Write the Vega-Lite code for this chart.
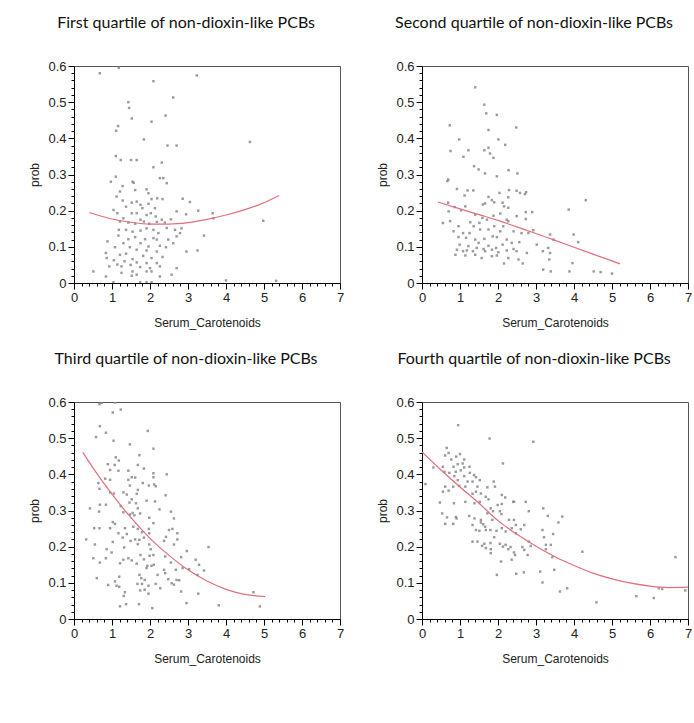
{
  "$schema": "https://vega.github.io/schema/vega-lite/v6.json",
  "padding": {"left": 28, "top": 14, "right": 5, "bottom": 5},
  "background": "white",
  "columns": 2,
  "bounds": "flush",
  "spacing": {"row": 119, "column": 82},
  "datasets": {
    "p1": [
      {"x":0.68,"y":0.58},{"x":1.18,"y":0.595},{"x":2.09,"y":0.558},{"x":3.23,"y":0.574},{"x":1.43,"y":0.5},{"x":1.45,"y":0.484},{"x":1.52,"y":0.455},{"x":2.61,"y":0.513},{"x":2.41,"y":0.463},{"x":2.04,"y":0.446},{"x":1.16,"y":0.434},{"x":1.11,"y":0.421},{"x":1.84,"y":0.397},{"x":2.46,"y":0.38},{"x":2.7,"y":0.38},{"x":4.63,"y":0.39},{"x":1.1,"y":0.351},{"x":1.23,"y":0.34},{"x":1.5,"y":0.34},{"x":1.65,"y":0.34},{"x":2.31,"y":0.333},{"x":2.09,"y":0.32},{"x":1.1,"y":0.294},{"x":0.97,"y":0.28},{"x":1.54,"y":0.28},{"x":1.57,"y":0.277},{"x":2.26,"y":0.29},{"x":2.35,"y":0.29},{"x":2.44,"y":0.276},{"x":1.28,"y":0.268},{"x":1.61,"y":0.257},{"x":1.21,"y":0.253},{"x":1.91,"y":0.259},{"x":1.96,"y":0.248},{"x":1.12,"y":0.239},{"x":2.19,"y":0.234},{"x":2.33,"y":0.232},{"x":2.86,"y":0.233},{"x":3.05,"y":0.224},{"x":2.04,"y":0.232},{"x":1.28,"y":0.228},{"x":1.52,"y":0.222},{"x":1.75,"y":0.216},{"x":1.96,"y":0.219},{"x":1.65,"y":0.225},{"x":1.37,"y":0.211},{"x":2.13,"y":0.207},{"x":1.8,"y":0.207},{"x":3.27,"y":0.2},{"x":3.65,"y":0.193},{"x":1.04,"y":0.202},{"x":1.14,"y":0.193},{"x":1.52,"y":0.193},{"x":1.65,"y":0.193},{"x":1.91,"y":0.188},{"x":2.02,"y":0.193},{"x":2.15,"y":0.184},{"x":2.7,"y":0.198},{"x":2.95,"y":0.19},{"x":1.3,"y":0.179},{"x":1.75,"y":0.175},{"x":2.31,"y":0.175},{"x":3.67,"y":0.179},{"x":2.55,"y":0.176},{"x":4.98,"y":0.172},{"x":1.21,"y":0.17},{"x":1.43,"y":0.167},{"x":1.61,"y":0.164},{"x":1.84,"y":0.17},{"x":1.98,"y":0.164},{"x":2.18,"y":0.169},{"x":2.39,"y":0.167},{"x":1.37,"y":0.147},{"x":1.18,"y":0.147},{"x":1.54,"y":0.142},{"x":1.75,"y":0.145},{"x":1.91,"y":0.151},{"x":2.09,"y":0.147},{"x":2.22,"y":0.138},{"x":2.44,"y":0.152},{"x":2.66,"y":0.147},{"x":2.83,"y":0.151},{"x":2.7,"y":0.129},{"x":2.79,"y":0.138},{"x":3.42,"y":0.131},{"x":1.61,"y":0.127},{"x":1.43,"y":0.121},{"x":1.87,"y":0.121},{"x":2.09,"y":0.124},{"x":2.18,"y":0.12},{"x":2.48,"y":0.12},{"x":1.17,"y":0.131},{"x":0.88,"y":0.115},{"x":1.3,"y":0.11},{"x":1.75,"y":0.11},{"x":1.96,"y":0.101},{"x":2.26,"y":0.103},{"x":1.47,"y":0.099},{"x":1.08,"y":0.099},{"x":2.42,"y":0.099},{"x":2.61,"y":0.11},{"x":1.65,"y":0.092},{"x":1.91,"y":0.09},{"x":2.18,"y":0.087},{"x":2.96,"y":0.087},{"x":3.25,"y":0.09},{"x":0.84,"y":0.083},{"x":1.37,"y":0.081},{"x":1.21,"y":0.078},{"x":1.82,"y":0.075},{"x":1.54,"y":0.066},{"x":2.04,"y":0.069},{"x":2.33,"y":0.072},{"x":0.86,"y":0.069},{"x":1.05,"y":0.063},{"x":1.33,"y":0.06},{"x":1.65,"y":0.057},{"x":1.91,"y":0.055},{"x":2.18,"y":0.055},{"x":1.14,"y":0.051},{"x":1.49,"y":0.05},{"x":0.93,"y":0.046},{"x":1.25,"y":0.046},{"x":1.74,"y":0.044},{"x":2.0,"y":0.041},{"x":2.26,"y":0.046},{"x":2.7,"y":0.041},{"x":2.04,"y":0.032},{"x":1.91,"y":0.032},{"x":1.54,"y":0.032},{"x":0.51,"y":0.032},{"x":1.25,"y":0.028},{"x":1.65,"y":0.023},{"x":1.52,"y":0.02},{"x":2.26,"y":0.018},{"x":2.57,"y":0.023},{"x":0.84,"y":0.018},{"x":1.04,"y":0.002},{"x":1.74,"y":0.002},{"x":1.91,"y":0.002},{"x":4.0,"y":0.007},{"x":5.32,"y":0.006},{"x":2.04,"y":0.002}
    ],
    "f1": [
      {"x":0.4,"y":0.195},{"x":1.0,"y":0.177},{"x":1.5,"y":0.168},{"x":2.0,"y":0.163},{"x":2.5,"y":0.163},{"x":3.0,"y":0.167},{"x":3.5,"y":0.176},{"x":4.0,"y":0.188},{"x":4.5,"y":0.203},{"x":5.0,"y":0.222},{"x":5.4,"y":0.242}
    ],
    "p2": [
      {"x":1.4,"y":0.541},{"x":1.64,"y":0.493},{"x":1.69,"y":0.469},{"x":1.97,"y":0.465},{"x":2.48,"y":0.43},{"x":1.75,"y":0.423},{"x":0.73,"y":0.436},{"x":0.98,"y":0.397},{"x":2.01,"y":0.397},{"x":1.75,"y":0.374},{"x":2.19,"y":0.382},{"x":0.75,"y":0.365},{"x":1.64,"y":0.367},{"x":1.79,"y":0.358},{"x":1.22,"y":0.367},{"x":1.09,"y":0.349},{"x":1.88,"y":0.346},{"x":1.37,"y":0.323},{"x":1.49,"y":0.314},{"x":1.66,"y":0.303},{"x":1.97,"y":0.295},{"x":2.51,"y":0.303},{"x":2.28,"y":0.312},{"x":0.67,"y":0.282},{"x":0.69,"y":0.286},{"x":0.92,"y":0.26},{"x":1.2,"y":0.256},{"x":1.35,"y":0.256},{"x":2.29,"y":0.257},{"x":2.49,"y":0.255},{"x":2.58,"y":0.249},{"x":2.74,"y":0.251},{"x":2.71,"y":0.246},{"x":2.04,"y":0.249},{"x":1.75,"y":0.238},{"x":2.27,"y":0.237},{"x":1.12,"y":0.242},{"x":1.84,"y":0.229},{"x":1.9,"y":0.223},{"x":1.66,"y":0.22},{"x":1.6,"y":0.217},{"x":2.12,"y":0.222},{"x":2.16,"y":0.212},{"x":1.14,"y":0.212},{"x":4.31,"y":0.229},{"x":3.86,"y":0.203},{"x":0.69,"y":0.222},{"x":0.86,"y":0.21},{"x":0.7,"y":0.198},{"x":1.03,"y":0.201},{"x":1.4,"y":0.189},{"x":1.88,"y":0.186},{"x":2.06,"y":0.192},{"x":2.73,"y":0.196},{"x":2.9,"y":0.196},{"x":2.27,"y":0.208},{"x":0.74,"y":0.171},{"x":0.55,"y":0.166},{"x":1.27,"y":0.168},{"x":1.71,"y":0.175},{"x":1.59,"y":0.18},{"x":2.23,"y":0.175},{"x":2.49,"y":0.185},{"x":2.73,"y":0.177},{"x":0.96,"y":0.157},{"x":1.36,"y":0.157},{"x":1.51,"y":0.166},{"x":1.9,"y":0.157},{"x":2.14,"y":0.157},{"x":2.27,"y":0.171},{"x":2.93,"y":0.146},{"x":1.53,"y":0.148},{"x":1.75,"y":0.148},{"x":2.06,"y":0.143},{"x":0.83,"y":0.143},{"x":1.08,"y":0.138},{"x":1.25,"y":0.138},{"x":2.41,"y":0.143},{"x":2.62,"y":0.138},{"x":2.8,"y":0.138},{"x":3.37,"y":0.134},{"x":3.99,"y":0.134},{"x":0.96,"y":0.127},{"x":1.16,"y":0.125},{"x":1.4,"y":0.12},{"x":1.64,"y":0.122},{"x":1.86,"y":0.129},{"x":1.97,"y":0.127},{"x":2.23,"y":0.12},{"x":3.46,"y":0.12},{"x":4.11,"y":0.113},{"x":0.99,"y":0.106},{"x":1.22,"y":0.102},{"x":1.49,"y":0.111},{"x":1.75,"y":0.103},{"x":2.12,"y":0.106},{"x":2.36,"y":0.111},{"x":2.56,"y":0.113},{"x":1.44,"y":0.097},{"x":1.62,"y":0.094},{"x":1.95,"y":0.097},{"x":2.41,"y":0.094},{"x":3.02,"y":0.106},{"x":3.32,"y":0.097},{"x":0.92,"y":0.092},{"x":1.08,"y":0.088},{"x":1.18,"y":0.09},{"x":1.34,"y":0.088},{"x":1.66,"y":0.088},{"x":1.84,"y":0.092},{"x":2.01,"y":0.085},{"x":2.23,"y":0.09},{"x":2.49,"y":0.088},{"x":2.76,"y":0.083},{"x":3.18,"y":0.088},{"x":3.37,"y":0.083},{"x":0.88,"y":0.078},{"x":1.14,"y":0.076},{"x":1.4,"y":0.078},{"x":1.57,"y":0.069},{"x":1.84,"y":0.074},{"x":1.97,"y":0.076},{"x":2.27,"y":0.069},{"x":2.54,"y":0.065},{"x":3.35,"y":0.065},{"x":2.65,"y":0.054},{"x":2.16,"y":0.054},{"x":3.96,"y":0.055},{"x":3.19,"y":0.037},{"x":3.39,"y":0.032},{"x":3.88,"y":0.032},{"x":4.52,"y":0.032},{"x":4.7,"y":0.03},{"x":5.0,"y":0.026}
    ],
    "f2": [
      {"x":0.42,"y":0.224},{"x":1.0,"y":0.205},{"x":1.5,"y":0.189},{"x":2.0,"y":0.173},{"x":2.5,"y":0.155},{"x":3.0,"y":0.137},{"x":3.5,"y":0.118},{"x":4.0,"y":0.099},{"x":4.5,"y":0.08},{"x":5.21,"y":0.053}
    ],
    "p3": [
      {"x":0.73,"y":0.598},{"x":0.67,"y":0.594},{"x":1.08,"y":0.599},{"x":1.23,"y":0.579},{"x":1.02,"y":0.571},{"x":0.68,"y":0.533},{"x":0.84,"y":0.515},{"x":0.58,"y":0.503},{"x":1.94,"y":0.52},{"x":1.04,"y":0.493},{"x":1.47,"y":0.483},{"x":2.09,"y":0.471},{"x":1.72,"y":0.453},{"x":1.1,"y":0.447},{"x":1.18,"y":0.438},{"x":1.07,"y":0.426},{"x":0.89,"y":0.428},{"x":0.95,"y":0.412},{"x":1.17,"y":0.41},{"x":1.43,"y":0.41},{"x":1.68,"y":0.426},{"x":1.84,"y":0.416},{"x":2.09,"y":0.403},{"x":2.44,"y":0.4},{"x":1.52,"y":0.392},{"x":1.61,"y":0.391},{"x":2.09,"y":0.392},{"x":0.82,"y":0.388},{"x":0.95,"y":0.385},{"x":0.64,"y":0.376},{"x":0.67,"y":0.36},{"x":1.43,"y":0.385},{"x":1.47,"y":0.369},{"x":1.81,"y":0.376},{"x":1.97,"y":0.369},{"x":2.11,"y":0.372},{"x":2.15,"y":0.367},{"x":1.68,"y":0.357},{"x":0.95,"y":0.35},{"x":1.05,"y":0.347},{"x":1.3,"y":0.35},{"x":1.39,"y":0.344},{"x":1.65,"y":0.346},{"x":2.41,"y":0.342},{"x":1.52,"y":0.331},{"x":1.63,"y":0.32},{"x":1.91,"y":0.327},{"x":2.13,"y":0.325},{"x":1.46,"y":0.322},{"x":0.68,"y":0.316},{"x":0.84,"y":0.316},{"x":0.42,"y":0.306},{"x":1.23,"y":0.312},{"x":1.68,"y":0.306},{"x":2.25,"y":0.303},{"x":2.55,"y":0.297},{"x":0.66,"y":0.297},{"x":1.3,"y":0.295},{"x":1.54,"y":0.293},{"x":1.74,"y":0.292},{"x":1.02,"y":0.268},{"x":1.47,"y":0.289},{"x":1.59,"y":0.287},{"x":1.98,"y":0.28},{"x":2.63,"y":0.278},{"x":1.08,"y":0.263},{"x":2.09,"y":0.265},{"x":0.53,"y":0.251},{"x":0.67,"y":0.251},{"x":0.95,"y":0.251},{"x":1.34,"y":0.251},{"x":1.56,"y":0.255},{"x":1.68,"y":0.249},{"x":1.97,"y":0.249},{"x":2.5,"y":0.246},{"x":2.59,"y":0.249},{"x":2.72,"y":0.237},{"x":1.17,"y":0.237},{"x":1.39,"y":0.235},{"x":1.79,"y":0.24},{"x":1.98,"y":0.237},{"x":0.32,"y":0.22},{"x":1.28,"y":0.225},{"x":1.61,"y":0.22},{"x":1.72,"y":0.219},{"x":1.84,"y":0.225},{"x":2.42,"y":0.227},{"x":2.72,"y":0.22},{"x":1.49,"y":0.216},{"x":2.37,"y":0.216},{"x":2.63,"y":0.206},{"x":3.54,"y":0.199},{"x":0.55,"y":0.206},{"x":1.02,"y":0.213},{"x":1.68,"y":0.207},{"x":1.98,"y":0.206},{"x":2.97,"y":0.188},{"x":1.32,"y":0.198},{"x":0.86,"y":0.193},{"x":2.02,"y":0.193},{"x":0.99,"y":0.184},{"x":1.75,"y":0.177},{"x":1.99,"y":0.175},{"x":2.09,"y":0.177},{"x":2.4,"y":0.173},{"x":2.82,"y":0.171},{"x":0.51,"y":0.168},{"x":0.84,"y":0.168},{"x":1.43,"y":0.168},{"x":1.3,"y":0.164},{"x":1.52,"y":0.162},{"x":1.84,"y":0.165},{"x":3.2,"y":0.164},{"x":3.29,"y":0.15},{"x":0.68,"y":0.156},{"x":1.21,"y":0.154},{"x":1.65,"y":0.153},{"x":1.93,"y":0.147},{"x":2.04,"y":0.147},{"x":2.1,"y":0.15},{"x":2.55,"y":0.156},{"x":1.91,"y":0.141},{"x":2.37,"y":0.136},{"x":2.68,"y":0.136},{"x":2.86,"y":0.141},{"x":3.03,"y":0.138},{"x":3.42,"y":0.134},{"x":2.4,"y":0.127},{"x":3.25,"y":0.122},{"x":1.19,"y":0.117},{"x":1.72,"y":0.122},{"x":2.2,"y":0.122},{"x":0.6,"y":0.113},{"x":1.77,"y":0.113},{"x":1.86,"y":0.108},{"x":2.48,"y":0.11},{"x":2.7,"y":0.108},{"x":2.77,"y":0.107},{"x":1.08,"y":0.104},{"x":1.67,"y":0.097},{"x":1.79,"y":0.097},{"x":2.15,"y":0.097},{"x":2.57,"y":0.099},{"x":2.63,"y":0.095},{"x":0.9,"y":0.094},{"x":1.12,"y":0.092},{"x":1.19,"y":0.089},{"x":1.96,"y":0.092},{"x":2.27,"y":0.085},{"x":2.82,"y":0.076},{"x":1.74,"y":0.079},{"x":1.86,"y":0.081},{"x":1.96,"y":0.07},{"x":1.34,"y":0.074},{"x":3.27,"y":0.07},{"x":4.72,"y":0.074},{"x":1.31,"y":0.064},{"x":2.96,"y":0.044},{"x":1.37,"y":0.041},{"x":1.71,"y":0.041},{"x":1.21,"y":0.035},{"x":2.06,"y":0.03},{"x":3.81,"y":0.038},{"x":4.89,"y":0.035}
    ],
    "f3": [
      {"x":0.23,"y":0.461},{"x":0.5,"y":0.418},{"x":1.0,"y":0.345},{"x":1.5,"y":0.28},{"x":2.0,"y":0.223},{"x":2.5,"y":0.176},{"x":3.0,"y":0.136},{"x":3.5,"y":0.105},{"x":4.0,"y":0.082},{"x":4.5,"y":0.068},{"x":5.03,"y":0.062}
    ],
    "p4": [
      {"x":0.95,"y":0.536},{"x":1.78,"y":0.499},{"x":2.93,"y":0.49},{"x":0.65,"y":0.473},{"x":0.7,"y":0.459},{"x":0.61,"y":0.452},{"x":0.9,"y":0.449},{"x":1.0,"y":0.456},{"x":1.11,"y":0.441},{"x":2.13,"y":0.43},{"x":0.3,"y":0.419},{"x":0.77,"y":0.441},{"x":0.55,"y":0.421},{"x":0.83,"y":0.421},{"x":0.94,"y":0.428},{"x":1.07,"y":0.43},{"x":1.11,"y":0.419},{"x":1.25,"y":0.421},{"x":0.59,"y":0.407},{"x":0.72,"y":0.404},{"x":0.89,"y":0.407},{"x":1.02,"y":0.411},{"x":1.26,"y":0.404},{"x":1.37,"y":0.398},{"x":0.85,"y":0.395},{"x":1.11,"y":0.395},{"x":1.42,"y":0.392},{"x":0.09,"y":0.373},{"x":0.94,"y":0.384},{"x":1.2,"y":0.38},{"x":1.33,"y":0.38},{"x":1.52,"y":0.384},{"x":1.89,"y":0.38},{"x":0.61,"y":0.366},{"x":0.82,"y":0.366},{"x":0.98,"y":0.368},{"x":1.14,"y":0.366},{"x":1.46,"y":0.366},{"x":1.72,"y":0.364},{"x":1.92,"y":0.366},{"x":0.55,"y":0.352},{"x":0.7,"y":0.355},{"x":1.42,"y":0.352},{"x":1.55,"y":0.347},{"x":1.33,"y":0.346},{"x":1.68,"y":0.338},{"x":2.1,"y":0.343},{"x":2.19,"y":0.336},{"x":1.75,"y":0.331},{"x":2.73,"y":0.324},{"x":2.42,"y":0.324},{"x":1.14,"y":0.324},{"x":0.47,"y":0.322},{"x":0.84,"y":0.32},{"x":1.38,"y":0.32},{"x":1.52,"y":0.324},{"x":2.1,"y":0.318},{"x":2.4,"y":0.324},{"x":3.19,"y":0.306},{"x":1.99,"y":0.315},{"x":1.81,"y":0.306},{"x":2.81,"y":0.298},{"x":1.87,"y":0.298},{"x":2.05,"y":0.298},{"x":2.09,"y":0.29},{"x":0.53,"y":0.292},{"x":1.72,"y":0.292},{"x":3.31,"y":0.285},{"x":1.24,"y":0.285},{"x":1.38,"y":0.278},{"x":0.66,"y":0.281},{"x":0.91,"y":0.278},{"x":3.69,"y":0.283},{"x":0.89,"y":0.282},{"x":1.85,"y":0.274},{"x":2.29,"y":0.274},{"x":2.42,"y":0.274},{"x":1.55,"y":0.274},{"x":3.59,"y":0.267},{"x":1.55,"y":0.267},{"x":1.61,"y":0.262},{"x":0.61,"y":0.263},{"x":1.33,"y":0.26},{"x":1.66,"y":0.255},{"x":2.47,"y":0.26},{"x":2.69,"y":0.26},{"x":0.82,"y":0.263},{"x":2.1,"y":0.251},{"x":2.36,"y":0.251},{"x":1.42,"y":0.246},{"x":1.51,"y":0.244},{"x":1.68,"y":0.246},{"x":1.8,"y":0.246},{"x":1.96,"y":0.244},{"x":2.6,"y":0.248},{"x":3.17,"y":0.246},{"x":2.2,"y":0.242},{"x":2.47,"y":0.237},{"x":3.45,"y":0.235},{"x":3.21,"y":0.226},{"x":1.9,"y":0.226},{"x":1.33,"y":0.214},{"x":1.46,"y":0.214},{"x":2.81,"y":0.214},{"x":1.64,"y":0.208},{"x":1.8,"y":0.21},{"x":1.58,"y":0.202},{"x":1.68,"y":0.196},{"x":1.81,"y":0.193},{"x":2.05,"y":0.208},{"x":2.2,"y":0.205},{"x":2.13,"y":0.2},{"x":2.33,"y":0.199},{"x":2.64,"y":0.199},{"x":2.86,"y":0.202},{"x":3.26,"y":0.205},{"x":3.39,"y":0.205},{"x":3.26,"y":0.193},{"x":2.69,"y":0.191},{"x":4.22,"y":0.186},{"x":2.42,"y":0.184},{"x":1.81,"y":0.182},{"x":2.27,"y":0.193},{"x":2.78,"y":0.177},{"x":2.45,"y":0.177},{"x":3.43,"y":0.171},{"x":6.67,"y":0.171},{"x":2.36,"y":0.164},{"x":2.08,"y":0.159},{"x":3.48,"y":0.136},{"x":3.11,"y":0.131},{"x":2.68,"y":0.129},{"x":2.48,"y":0.125},{"x":1.97,"y":0.122},{"x":3.17,"y":0.101},{"x":3.82,"y":0.085},{"x":3.63,"y":0.076},{"x":6.23,"y":0.085},{"x":6.32,"y":0.083},{"x":6.93,"y":0.079},{"x":5.64,"y":0.063},{"x":6.1,"y":0.058},{"x":4.59,"y":0.046}
    ],
    "f4": [
      {"x":0.0,"y":0.462},{"x":0.5,"y":0.412},{"x":1.0,"y":0.365},{"x":1.5,"y":0.32},{"x":2.0,"y":0.272},{"x":2.5,"y":0.234},{"x":3.0,"y":0.201},{"x":3.5,"y":0.172},{"x":4.0,"y":0.148},{"x":4.5,"y":0.127},{"x":5.0,"y":0.111},{"x":5.5,"y":0.099},{"x":6.0,"y":0.091},{"x":6.5,"y":0.087},{"x":7.0,"y":0.088}
    ]
  },
  "concat": [
    {
      "title": "First quartile of non-dioxin-like PCBs",
      "width": 266, "height": 217,
      "resolve": {"axis": {"x": "independent", "y": "independent"}},
      "layer": [
        {
          "data": {"name": "p1"},
          "mark": {"type": "point", "shape": "square", "filled": true, "size": 6, "color": "#888888", "opacity": 0.85, "clip": true},
          "encoding": {
            "x": {"field": "x", "type": "quantitative", "title": "Serum_Carotenoids", "scale": {"domain": [0, 7], "nice": false},
              "axis": {"orient": "bottom", "values": [0,1,2,3,4,5,6,7], "tickSize": 6, "labelExpr": "datum.value + ''"}},
            "y": {"field": "y", "type": "quantitative", "title": "prob", "scale": {"domain": [0, 0.6], "nice": false},
              "axis": {"orient": "left", "values": [0,0.1,0.2,0.3,0.4,0.5,0.6], "tickSize": 6, "labelExpr": "datum.value + ''"}}
          }
        },
        {
          "data": {"name": "f1"},
          "mark": {"type": "line", "color": "#e0707a", "strokeWidth": 1.2, "interpolate": "monotone", "clip": true},
          "encoding": {
            "x": {"field": "x", "type": "quantitative",
              "axis": {"orient": "bottom", "title": null, "labels": false, "domain": false, "tickSize": 3, "values": [0.2,0.4,0.6,0.8,1.2,1.4,1.6,1.8,2.2,2.4,2.6,2.8,3.2,3.4,3.6,3.8,4.2,4.4,4.6,4.8,5.2,5.4,5.6,5.8,6.2,6.4,6.6,6.8]}},
            "y": {"field": "y", "type": "quantitative",
              "axis": {"orient": "left", "title": null, "labels": false, "domain": false, "tickSize": 3, "values": [0.02,0.04,0.06,0.08,0.12,0.14,0.16,0.18,0.22,0.24,0.26,0.28,0.32,0.34,0.36,0.38,0.42,0.44,0.46,0.48,0.52,0.54,0.56,0.58]}}
          }
        }
      ]
    },
    {
      "title": "Second quartile of non-dioxin-like PCBs",
      "width": 266, "height": 217,
      "resolve": {"axis": {"x": "independent", "y": "independent"}},
      "layer": [
        {
          "data": {"name": "p2"},
          "mark": {"type": "point", "shape": "square", "filled": true, "size": 6, "color": "#888888", "opacity": 0.85, "clip": true},
          "encoding": {
            "x": {"field": "x", "type": "quantitative", "title": "Serum_Carotenoids", "scale": {"domain": [0, 7], "nice": false},
              "axis": {"orient": "bottom", "values": [0,1,2,3,4,5,6,7], "tickSize": 6, "labelExpr": "datum.value + ''"}},
            "y": {"field": "y", "type": "quantitative", "title": "prob", "scale": {"domain": [0, 0.6], "nice": false},
              "axis": {"orient": "left", "values": [0,0.1,0.2,0.3,0.4,0.5,0.6], "tickSize": 6, "labelExpr": "datum.value + ''"}}
          }
        },
        {
          "data": {"name": "f2"},
          "mark": {"type": "line", "color": "#e0707a", "strokeWidth": 1.2, "interpolate": "monotone", "clip": true},
          "encoding": {
            "x": {"field": "x", "type": "quantitative",
              "axis": {"orient": "bottom", "title": null, "labels": false, "domain": false, "tickSize": 3, "values": [0.2,0.4,0.6,0.8,1.2,1.4,1.6,1.8,2.2,2.4,2.6,2.8,3.2,3.4,3.6,3.8,4.2,4.4,4.6,4.8,5.2,5.4,5.6,5.8,6.2,6.4,6.6,6.8]}},
            "y": {"field": "y", "type": "quantitative",
              "axis": {"orient": "left", "title": null, "labels": false, "domain": false, "tickSize": 3, "values": [0.02,0.04,0.06,0.08,0.12,0.14,0.16,0.18,0.22,0.24,0.26,0.28,0.32,0.34,0.36,0.38,0.42,0.44,0.46,0.48,0.52,0.54,0.56,0.58]}}
          }
        }
      ]
    },
    {
      "title": "Third quartile of non-dioxin-like PCBs",
      "width": 266, "height": 217,
      "resolve": {"axis": {"x": "independent", "y": "independent"}},
      "layer": [
        {
          "data": {"name": "p3"},
          "mark": {"type": "point", "shape": "square", "filled": true, "size": 6, "color": "#888888", "opacity": 0.85, "clip": true},
          "encoding": {
            "x": {"field": "x", "type": "quantitative", "title": "Serum_Carotenoids", "scale": {"domain": [0, 7], "nice": false},
              "axis": {"orient": "bottom", "values": [0,1,2,3,4,5,6,7], "tickSize": 6, "labelExpr": "datum.value + ''"}},
            "y": {"field": "y", "type": "quantitative", "title": "prob", "scale": {"domain": [0, 0.6], "nice": false},
              "axis": {"orient": "left", "values": [0,0.1,0.2,0.3,0.4,0.5,0.6], "tickSize": 6, "labelExpr": "datum.value + ''"}}
          }
        },
        {
          "data": {"name": "f3"},
          "mark": {"type": "line", "color": "#e0707a", "strokeWidth": 1.2, "interpolate": "monotone", "clip": true},
          "encoding": {
            "x": {"field": "x", "type": "quantitative",
              "axis": {"orient": "bottom", "title": null, "labels": false, "domain": false, "tickSize": 3, "values": [0.2,0.4,0.6,0.8,1.2,1.4,1.6,1.8,2.2,2.4,2.6,2.8,3.2,3.4,3.6,3.8,4.2,4.4,4.6,4.8,5.2,5.4,5.6,5.8,6.2,6.4,6.6,6.8]}},
            "y": {"field": "y", "type": "quantitative",
              "axis": {"orient": "left", "title": null, "labels": false, "domain": false, "tickSize": 3, "values": [0.02,0.04,0.06,0.08,0.12,0.14,0.16,0.18,0.22,0.24,0.26,0.28,0.32,0.34,0.36,0.38,0.42,0.44,0.46,0.48,0.52,0.54,0.56,0.58]}}
          }
        }
      ]
    },
    {
      "title": "Fourth quartile of non-dioxin-like PCBs",
      "width": 266, "height": 217,
      "resolve": {"axis": {"x": "independent", "y": "independent"}},
      "layer": [
        {
          "data": {"name": "p4"},
          "mark": {"type": "point", "shape": "square", "filled": true, "size": 6, "color": "#888888", "opacity": 0.85, "clip": true},
          "encoding": {
            "x": {"field": "x", "type": "quantitative", "title": "Serum_Carotenoids", "scale": {"domain": [0, 7], "nice": false},
              "axis": {"orient": "bottom", "values": [0,1,2,3,4,5,6,7], "tickSize": 6, "labelExpr": "datum.value + ''"}},
            "y": {"field": "y", "type": "quantitative", "title": "prob", "scale": {"domain": [0, 0.6], "nice": false},
              "axis": {"orient": "left", "values": [0,0.1,0.2,0.3,0.4,0.5,0.6], "tickSize": 6, "labelExpr": "datum.value + ''"}}
          }
        },
        {
          "data": {"name": "f4"},
          "mark": {"type": "line", "color": "#e0707a", "strokeWidth": 1.2, "interpolate": "monotone", "clip": true},
          "encoding": {
            "x": {"field": "x", "type": "quantitative",
              "axis": {"orient": "bottom", "title": null, "labels": false, "domain": false, "tickSize": 3, "values": [0.2,0.4,0.6,0.8,1.2,1.4,1.6,1.8,2.2,2.4,2.6,2.8,3.2,3.4,3.6,3.8,4.2,4.4,4.6,4.8,5.2,5.4,5.6,5.8,6.2,6.4,6.6,6.8]}},
            "y": {"field": "y", "type": "quantitative",
              "axis": {"orient": "left", "title": null, "labels": false, "domain": false, "tickSize": 3, "values": [0.02,0.04,0.06,0.08,0.12,0.14,0.16,0.18,0.22,0.24,0.26,0.28,0.32,0.34,0.36,0.38,0.42,0.44,0.46,0.48,0.52,0.54,0.56,0.58]}}
          }
        }
      ]
    }
  ],
  "config": {
    "view": {"stroke": "#555555", "strokeWidth": 1},
    "axis": {"grid": false, "labelFont": "Liberation Sans", "labelFontSize": 13, "labelColor": "#222222", "titleFont": "Liberation Sans", "titleFontSize": 12, "titleFontWeight": "normal", "titleColor": "#222222", "domainColor": "#000000", "tickColor": "#000000", "labelOverlap": false, "labelFlush": false},
    "axisX": {"labelPadding": 2, "titlePadding": 13},
    "axisY": {"labelPadding": 2, "titlePadding": 6},
    "title": {"font": "Lato", "fontSize": 16, "fontWeight": "normal", "color": "#111111", "frame": "group", "anchor": "middle", "offset": 29, "dx": -21}
  }
}
